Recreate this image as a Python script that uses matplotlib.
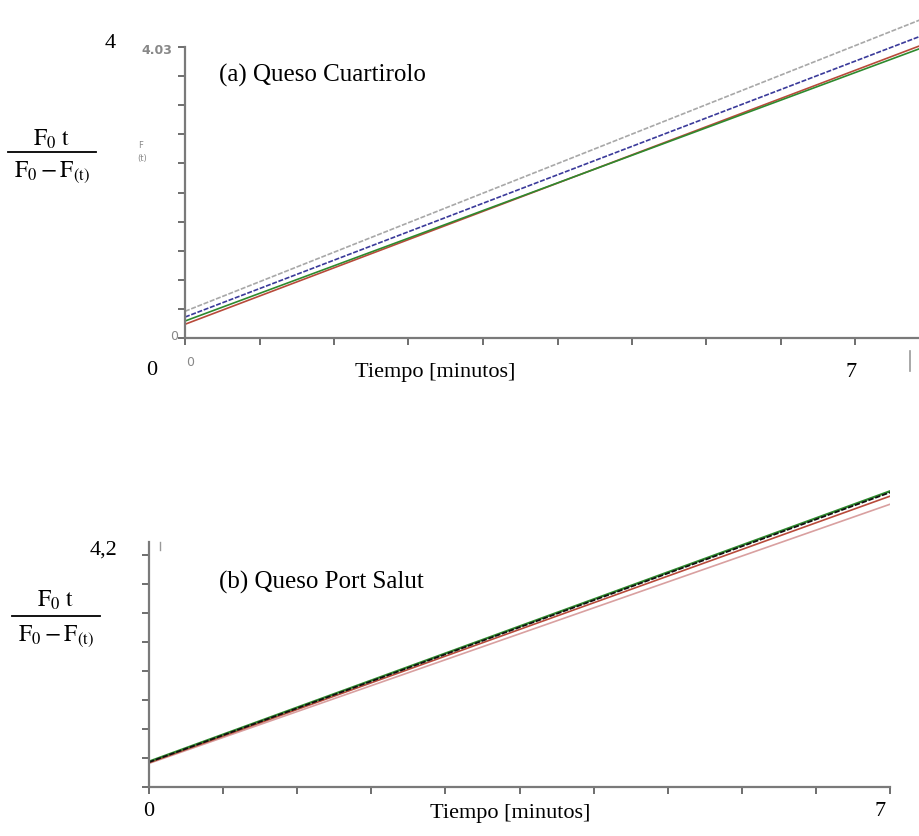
import numpy as np
import matplotlib
matplotlib.use("Agg")
import matplotlib.pyplot as plt
from matplotlib.lines import Line2D

plt.rcParams['mathtext.fontset'] = 'stix'
SERIF = ['Liberation Serif', 'DejaVu Serif']

# ---------------- data ----------------
time_min = [0.0, 7.0]
# (a) Queso Cuartirolo
a_gray = [0.37, 4.46]
a_blue = [0.29, 4.23]
a_red = [0.19, 4.10]
a_green = [0.235, 4.06]
a_ymax = 4.03
# (b) Queso Port Salut
b_green = [0.41, 4.76]
b_black = [0.40, 4.74]
b_red = [0.39, 4.68]
b_pink = [0.38, 4.55]
b_ymax = 4.2

W, H = 919, 837
fig = plt.figure(figsize=(W / 100, H / 100), dpi=100)


def fx(px):
    return px / W


def fy(py):
    return 1 - py / H


AX_COL = '#7a7a7a'


def style_axes(ax, ytop):
    for s in ['top', 'right']:
        ax.spines[s].set_visible(False)
    for s in ['left', 'bottom']:
        ax.spines[s].set_color(AX_COL)
        ax.spines[s].set_linewidth(1.6)
    ax.spines['left'].set_bounds(0, ytop)
    ax.tick_params(axis='both', direction='out', length=5, width=1.2,
                   color='#555555', labelleft=False, labelbottom=False)
    ax.patch.set_alpha(0)


# ---------- panel (a) ----------
# 0 at y=339 px, 4.03 at y=48 px ; x: 0 at 185 px, 7 at 930 px
ppu_a = (339 - 48) / a_ymax
ax1 = fig.add_axes([fx(185), fy(339), fx(930 - 185), (339 - 0) / H])
ax1.set_xlim(0, 7)
ax1.set_ylim(0, 339 / ppu_a)
ax1.plot(time_min, a_gray, color='#a8a8a8', lw=1.2, ls=(0, (3, 1)))
ax1.plot(time_min, a_blue, color='#3a3a9a', lw=1.2, ls=(0, (3, 1)))
ax1.plot(time_min, a_red, color='#b84a3a', lw=1.2)
ax1.plot(time_min, a_green, color='#2e8a2e', lw=1.2)
ax1.set_xticks(np.linspace(0, 7, 11))
ax1.set_yticks(np.linspace(0, a_ymax, 11))
style_axes(ax1, a_ymax)

# ---------- panel (b) ----------
# 0 at y=788 px, 4.2 at y=527 px ; x: 0 at 149 px, 7 at 890 px
ppu_b = (788 - 527) / b_ymax
ax2 = fig.add_axes([fx(149), fy(788), fx(890 - 149), (788 - 470) / H])
ax2.set_xlim(0, 7)
ax2.set_ylim(0, (788 - 470) / ppu_b)
ax2.plot(time_min, b_pink, color='#d9a0a0', lw=1.2)
ax2.plot(time_min, b_red, color='#b84a3a', lw=1.2)
ax2.plot(time_min, b_green, color='#2e8a2e', lw=1.6)
ax2.plot(time_min, b_black, color='#111111', lw=1.3, ls=(0, (3, 1)))
ax2.set_xticks(np.linspace(0, 7, 11))
ax2.set_yticks(np.linspace(0, b_ymax, 10)[:-1])
style_axes(ax2, b_ymax)
ax2.spines['left'].set_bounds(0, (788 - 543) / ppu_b)

# ---------- texts ----------
FS = 16


def t(px, py, s, **kw):
    kw.setdefault('family', SERIF)
    kw.setdefault('fontsize', FS)
    kw.setdefault('ha', 'center')
    kw.setdefault('va', 'center')
    fig.text(fx(px), fy(py), s, **kw)


# inner (original) grey labels, panel a
t(157, 50, '4.03', family=['DejaVu Sans'], fontsize=9, color='#888888',
  weight='bold')
t(174, 337, '0', family=['DejaVu Sans'], fontsize=9, color='#888888')
t(190, 363, '0', family=['DejaVu Sans'], fontsize=9, color='#888888')
t(141, 146, 'F', family=['DejaVu Sans'], fontsize=6, color='#888888')
t(142, 158, '(t)', family=['DejaVu Sans'], fontsize=6, color='#888888')
fig.add_artist(Line2D([fx(910), fx(910)], [fy(352), fy(372)],
                      color='#999999', lw=1.2))
fig.add_artist(Line2D([fx(160), fx(160)], [fy(543), fy(551)],
                      color='#999999', lw=1.0))

# outer labels panel a
t(110, 43, '4')
t(152, 371, '0')
t(435, 373, 'Tiempo [minutos]')
t(851, 373, '7')
t(322, 75, '(a) Queso Cuartirolo', fontsize=18)

# outer labels panel b
t(103, 550, '4,2')
t(149, 812, '0')
t(510, 814, 'Tiempo [minutos]')
t(880, 812, '7')
t(321, 582, '(b) Queso Port Salut', fontsize=18)


def fraction(cx, ynum, yline, yden):
    t(cx, ynum, r'$\mathrm{F_0\ t}$', family=None, fontsize=17)
    t(cx, yden, r'$\mathrm{F_0 - F_{(t)}}$', family=None, fontsize=17)
    fig.add_artist(Line2D([fx(cx - 44), fx(cx + 44)], [fy(yline), fy(yline)],
                          color='black', lw=1.3))


fraction(52, 139, 153, 172)
fraction(56, 600, 617, 636)

fig.savefig('out.png', dpi=100)
